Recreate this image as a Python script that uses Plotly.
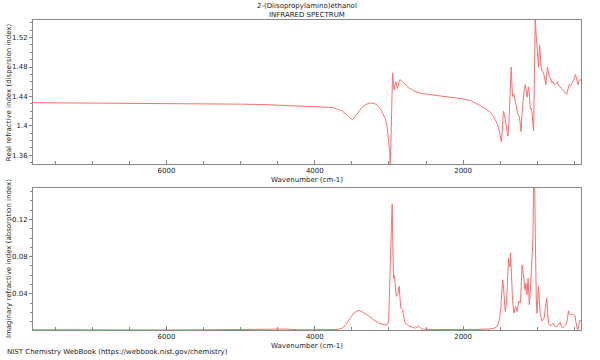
import plotly.graph_objects as go

title_line1 = "2-(Diisopropylamino)ethanol"
title_line2 = "INFRARED SPECTRUM"
x_title = "Wavenumber (cm-1)"
y_title_real = "Real refractive index (dispersion index)"
y_title_imag = "Imaginary refractive index (absorption index)"
footer = "NIST Chemistry WebBook (https://webbook.nist.gov/chemistry)"

wn_real = [7800, 7000, 6500, 6000, 5500, 5000, 4700, 4427, 4200, 4000, 3760, 3627, 3537, 3493,
           3449, 3400, 3360, 3300, 3249, 3200, 3160, 3120, 3093, 3050, 3027, 3004, 2990, 2982,
           2966, 2951, 2940, 2929, 2918, 2907, 2895, 2884, 2865, 2849, 2830, 2804, 2770, 2738,
           2700, 2649, 2560, 2400, 2293, 2150, 2027, 1900, 1827, 1760, 1693, 1627, 1580, 1537,
           1510, 1484, 1470, 1457, 1442, 1427, 1410, 1396, 1382, 1369, 1360, 1351, 1342, 1333,
           1316, 1300, 1284, 1262, 1240, 1230, 1218, 1207, 1196, 1178, 1160, 1150, 1138, 1127,
           1116, 1105, 1093, 1082, 1071, 1060, 1049, 1038, 1027, 1016, 1004, 993, 982, 969, 958,
           947, 930, 916, 900, 884, 873, 862, 850, 836, 820, 804, 790, 775, 760, 745, 729, 712,
           693, 675, 658, 630, 604, 585, 569, 550, 524, 505, 484, 465, 449, 440, 427, 410]
n_real = [1.4315, 1.4312, 1.4310, 1.4308, 1.4302, 1.4295, 1.4290, 1.4280, 1.4272, 1.4265, 1.4250,
          1.4200, 1.4126, 1.4086, 1.4135, 1.4200, 1.4256, 1.4295, 1.4310, 1.4305, 1.4283, 1.4240,
          1.4180, 1.4100, 1.4000, 1.3820, 1.3650, 1.3400, 1.4200, 1.4720, 1.4550, 1.4490, 1.4560,
          1.4600, 1.4540, 1.4510, 1.4600, 1.4630, 1.4610, 1.4590, 1.4550, 1.4520, 1.4500, 1.4470,
          1.4440, 1.4420, 1.4405, 1.4390, 1.4370, 1.4345, 1.4310, 1.4270, 1.4230, 1.4180, 1.4110,
          1.4020, 1.3920, 1.3780, 1.3950, 1.4200, 1.4150, 1.4060, 1.3950, 1.3860, 1.4050, 1.4320,
          1.4550, 1.4800, 1.4580, 1.4400, 1.4430, 1.4350, 1.4270, 1.4160, 1.4120, 1.4050, 1.3920,
          1.4150, 1.4320, 1.4470, 1.4560, 1.4480, 1.4390, 1.4470, 1.4530, 1.4400, 1.4230, 1.4240,
          1.4200, 1.4050, 1.3930, 1.4700, 1.5500, 1.5250, 1.5060, 1.4900, 1.4800, 1.5100, 1.4950,
          1.4790, 1.4740, 1.4720, 1.4650, 1.4560, 1.4680, 1.4800, 1.4720, 1.4670, 1.4620, 1.4590,
          1.4610, 1.4570, 1.4560, 1.4590, 1.4600, 1.4550, 1.4520, 1.4510, 1.4490, 1.4460, 1.4430,
          1.4500, 1.4560, 1.4550, 1.4590, 1.4630, 1.4700, 1.4620, 1.4560, 1.4600, 1.4630, 1.4620]

wn_imag = [7800, 7500, 7000, 6500, 6000, 5500, 5000, 4600, 4400, 4200, 4000, 3800, 3700, 3627,
           3580, 3530, 3480, 3430, 3396, 3350, 3300, 3271, 3200, 3138, 3080, 3027, 3004, 2990,
           2978, 2966, 2956, 2947, 2938, 2931, 2924, 2913, 2902, 2890, 2880, 2870, 2862, 2850,
           2840, 2818, 2800, 2782, 2738, 2649, 2596, 2560, 2400, 2200, 2000, 1800, 1650, 1580,
           1537, 1510, 1493, 1480, 1467, 1458, 1449, 1440, 1431, 1413, 1400, 1387, 1378, 1369,
           1360, 1347, 1333, 1316, 1305, 1293, 1271, 1260, 1249, 1227, 1215, 1204, 1193, 1182,
           1172, 1164, 1151, 1138, 1124, 1115, 1107, 1095, 1084, 1067, 1058, 1049, 1042, 1036,
           1029, 1022, 1013, 1004, 993, 982, 970, 960, 938, 920, 907, 890, 871, 860, 849, 830,
           818, 800, 782, 765, 747, 720, 693, 675, 658, 635, 613, 595, 578, 565, 551, 530, 516,
           500, 489, 480, 471, 460, 449, 438, 427, 410]
k_imag = [0.0012, 0.0013, 0.0012, 0.0011, 0.0011, 0.0012, 0.0013, 0.0018, 0.0020, 0.0012, 0.0011,
          0.0012, 0.0015, 0.0030, 0.0070, 0.0130, 0.0185, 0.0215, 0.0220, 0.0200, 0.0180, 0.0160,
          0.0115, 0.0085, 0.0070, 0.0064, 0.0107, 0.0400, 0.0810, 0.1150, 0.1366, 0.0900, 0.0565,
          0.0600, 0.0576, 0.0450, 0.0373, 0.0380, 0.0395, 0.0440, 0.0480, 0.0350, 0.0245, 0.0227,
          0.0150, 0.0085, 0.0057, 0.0030, 0.0050, 0.0020, 0.0015, 0.0014, 0.0014, 0.0016, 0.0020,
          0.0030, 0.0050, 0.0120, 0.0230, 0.0400, 0.0550, 0.0500, 0.0405, 0.0280, 0.0210, 0.0320,
          0.0550, 0.0780, 0.0730, 0.0690, 0.0840, 0.0587, 0.0330, 0.0190, 0.0230, 0.0267, 0.0210,
          0.0260, 0.0320, 0.0300, 0.0500, 0.0708, 0.0650, 0.0587, 0.0500, 0.0440, 0.0510, 0.0388,
          0.0565, 0.0400, 0.0280, 0.0400, 0.0587, 0.0725, 0.1000, 0.1650, 0.1750, 0.1700, 0.1200,
          0.0690, 0.0350, 0.0190, 0.0300, 0.0480, 0.0300, 0.0190, 0.0107, 0.0120, 0.0139, 0.0250,
          0.0350, 0.0200, 0.0085, 0.0060, 0.0053, 0.0070, 0.0085, 0.0050, 0.0043, 0.0060, 0.0096,
          0.0050, 0.0032, 0.0050, 0.0068, 0.0120, 0.0217, 0.0180, 0.0174, 0.0178, 0.0180, 0.0170,
          0.0160, 0.0100, 0.0032, 0.0020, 0.0014, 0.0060, 0.0117, 0.0100]

W, H = 600, 360
ML, MR, MT, MB = 30, 19, 20, 28
PW, PH = W - ML - MR, H - MT - MB

def py(pix):  # pixel y (from top) -> paper y
    return (H - MB - pix) / PH

def px(pix):
    return (pix - ML) / PW

line_color = "rgb(255,110,110)"
FONT = "DejaVu Sans"
TXT = dict(family=FONT, size=7, color="#222")

fig = go.Figure()
fig.add_trace(go.Scatter(x=wn_real, y=n_real, mode="lines", line=dict(color=line_color, width=1),
                         xaxis="x", yaxis="y", showlegend=False, hoverinfo="skip"))
fig.add_trace(go.Scatter(x=wn_imag, y=k_imag, mode="lines", line=dict(color=line_color, width=1),
                         xaxis="x2", yaxis="y2", showlegend=False, hoverinfo="skip"))

axis_common = dict(showline=True, linecolor="#888888", linewidth=1, mirror=True, showgrid=False,
                   zeroline=False, tickfont=TXT, tickcolor="#888888")

xcommon = dict(axis_common, range=[7800, 410], tick0=0, dtick=2000, ticks="inside", ticklen=4,
               minor=dict(dtick=500, ticks="inside", ticklen=3, tickcolor="#888888"),
               title=dict(text=x_title, font=TXT, standoff=2))

fig.update_layout(
    width=W, height=H,
    margin=dict(l=ML, r=MR, t=MT, b=MB),
    paper_bgcolor="white", plot_bgcolor="white",
    xaxis=dict(xcommon, anchor="y", domain=[0, 1]),
    yaxis=dict(axis_common, anchor="x", domain=[py(165), 1.0], range=[1.348, 1.544],
               tick0=1.36, dtick=0.04, ticks="outside", ticklen=3, tickformat="~g",
               minor=dict(dtick=0.01, ticks="outside", ticklen=2, tickcolor="#888888")),
    xaxis2=dict(xcommon, anchor="y2", domain=[0, 1]),
    yaxis2=dict(axis_common, anchor="x2", domain=[0, py(189)], range=[0.001, 0.154],
                tick0=0, dtick=0.04, ticks="outside", ticklen=3,
                minor=dict(dtick=0.01, ticks="outside", ticklen=2, tickcolor="#888888")),
    annotations=[
        dict(text=title_line1, x=0.5, y=py(6), xref="paper", yref="paper", showarrow=False,
             xanchor="center", yanchor="middle", font=TXT),
        dict(text=title_line2, x=0.5, y=py(15), xref="paper", yref="paper", showarrow=False,
             xanchor="center", yanchor="middle", font=TXT),
        dict(text=y_title_real, x=px(6), y=py(92.5), xref="paper", yref="paper", showarrow=False,
             textangle=-90, xanchor="center", yanchor="middle", font=TXT),
        dict(text=y_title_imag, x=px(6), y=py(260.5), xref="paper", yref="paper", showarrow=False,
             textangle=-90, xanchor="center", yanchor="middle", font=TXT),
        dict(text=footer, x=px(2), y=py(354), xref="paper", yref="paper", showarrow=False,
             xanchor="left", yanchor="middle", font=TXT),
    ],
)

fig.write_html("out.html", config={"displayModeBar": False},
               post_script="document.body.style.margin='0';document.body.style.padding='0';")
